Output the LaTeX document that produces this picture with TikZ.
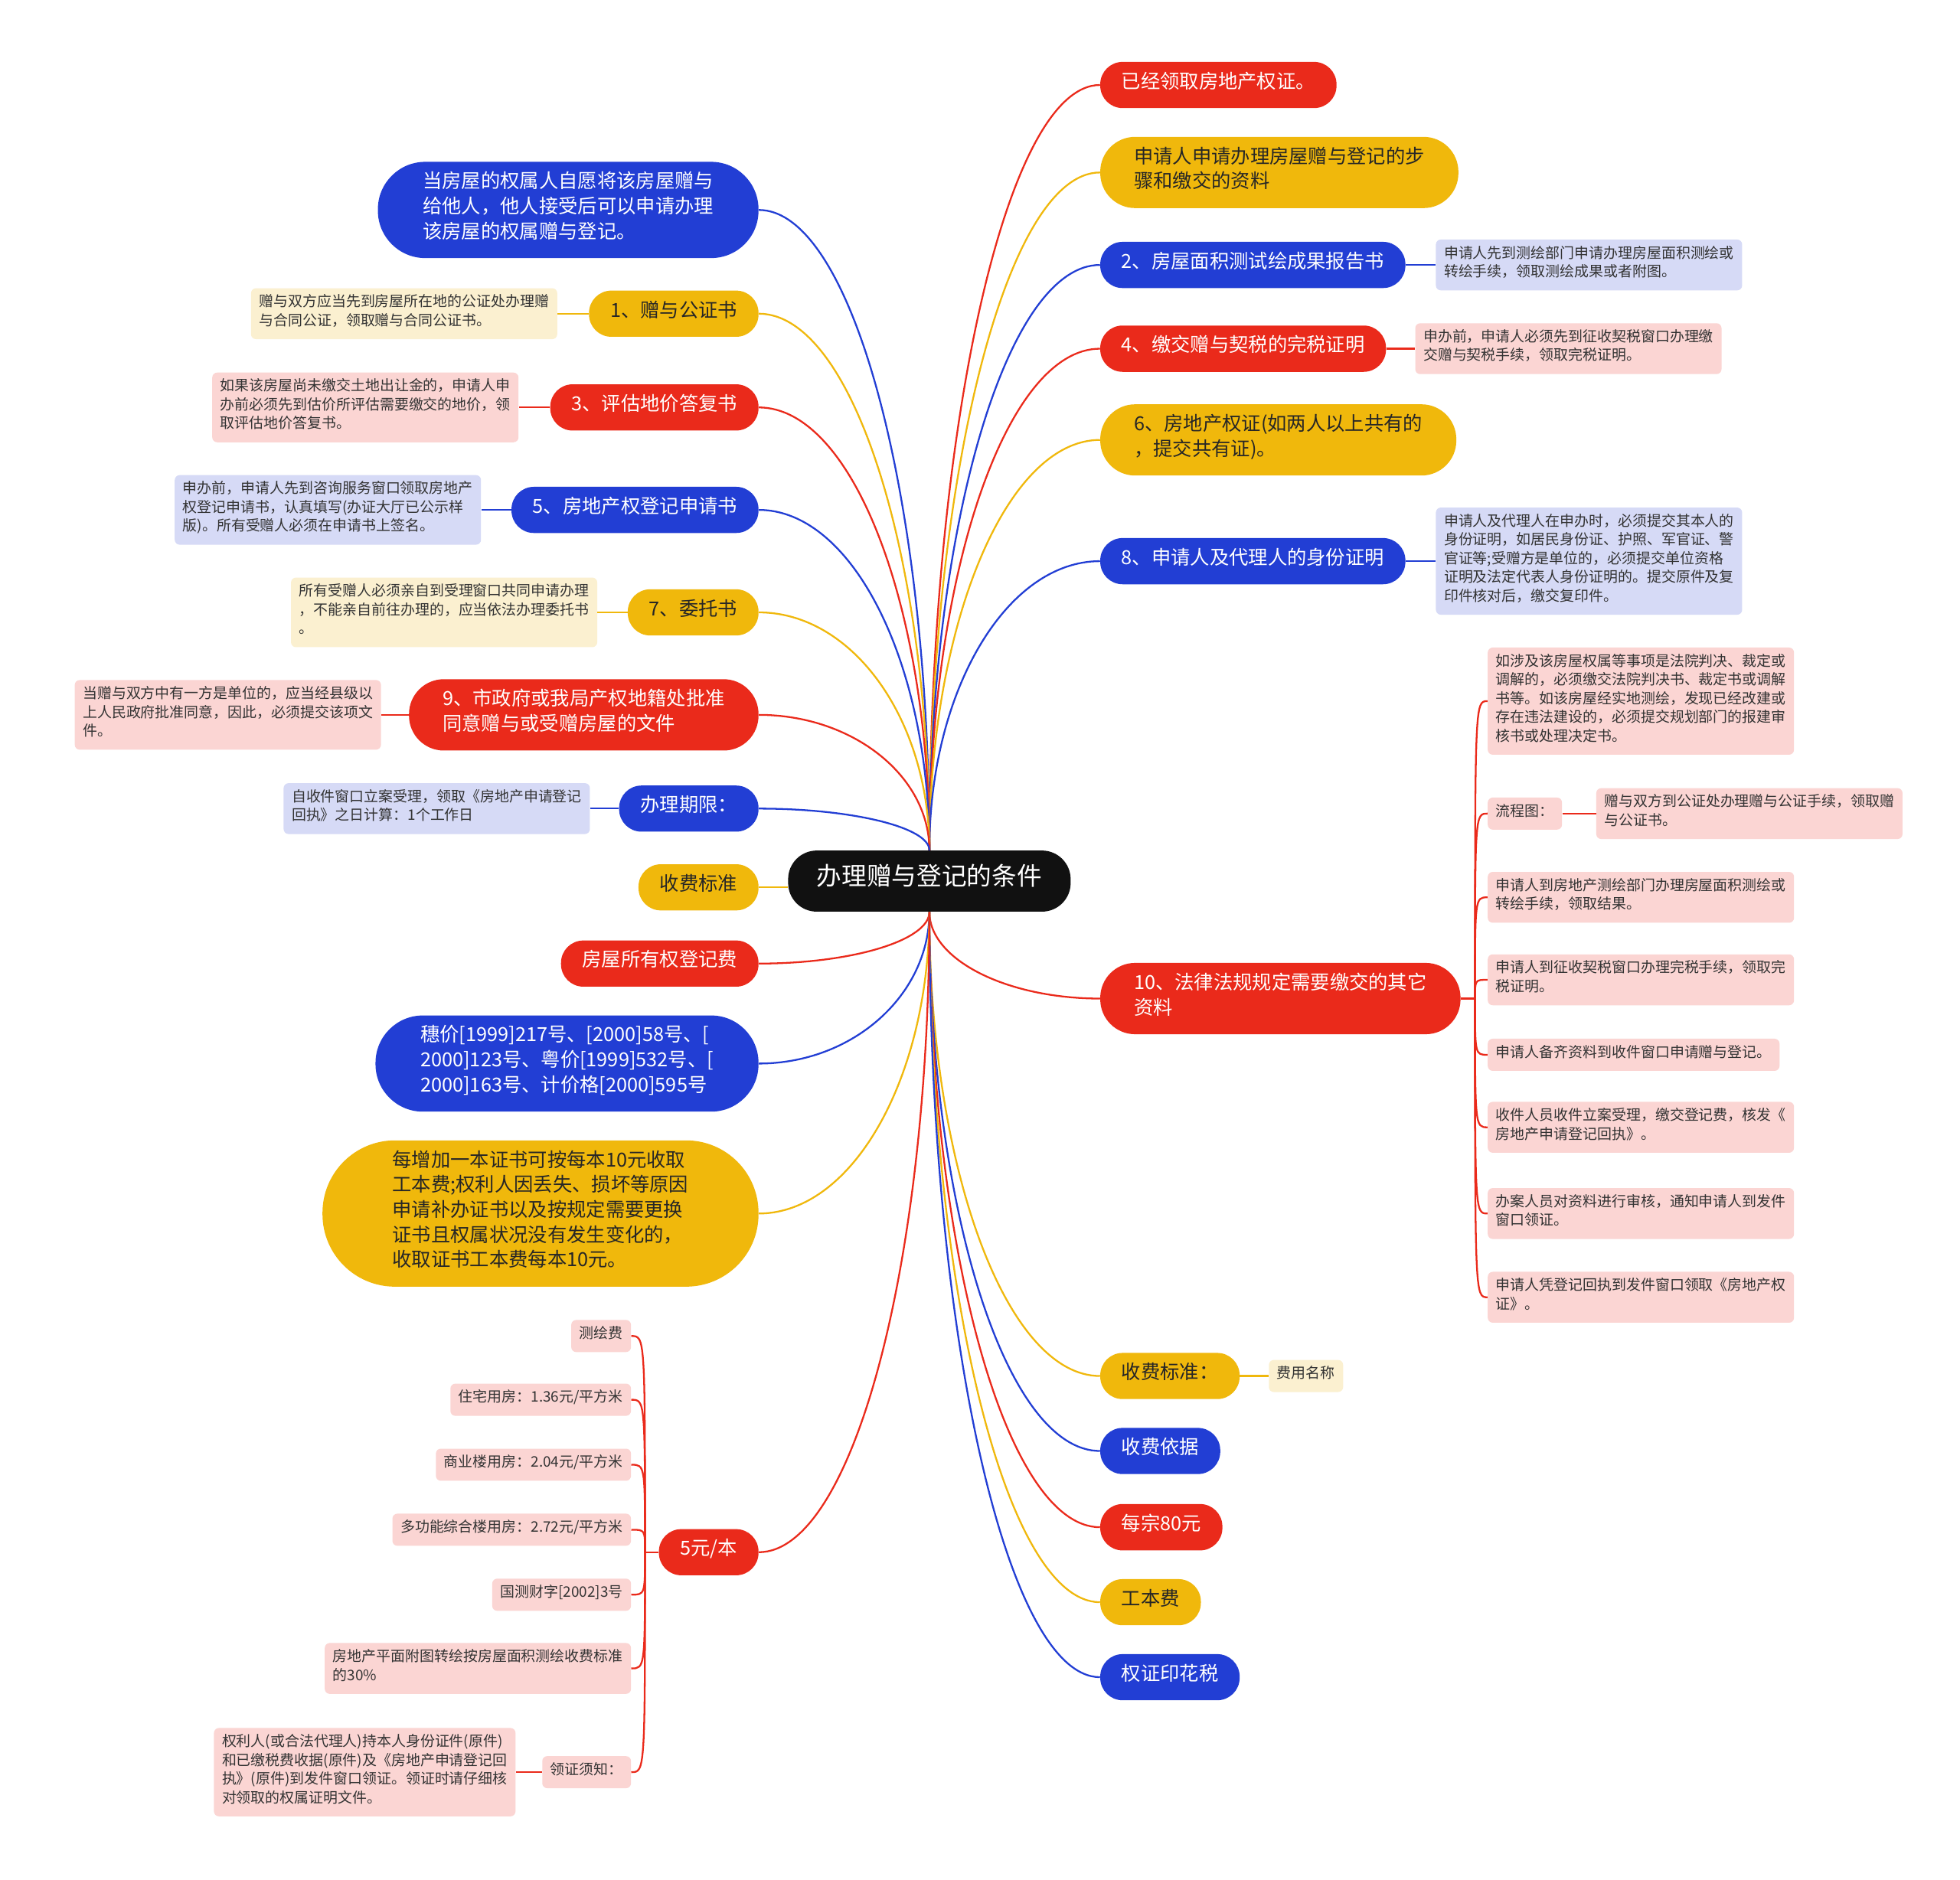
\documentclass[tikz,border=0pt]{standalone}
\usepackage{fontspec}
\setmainfont{Noto Sans CJK SC}
\usepackage{xcolor}
\usetikzlibrary{positioning, calc}

\definecolor{mmred}{HTML}{EA2A1B}
\definecolor{mmyellow}{HTML}{F0B80C}
\definecolor{mmblue}{HTML}{223ED4}
\definecolor{rootblack}{HTML}{111111}
\definecolor{notered}{HTML}{FBD5D3}
\definecolor{noteblue}{HTML}{D6DAF6}
\definecolor{noteyellow}{HTML}{FBF0D0}
\definecolor{notetext}{HTML}{333333}

\begin{document}
\begin{tikzpicture}[
    x=1pt, y=-1pt,
    every node/.style={inner sep=0pt},
    root/.style  ={rectangle, rounded corners=22.9pt, fill=rootblack, text=white,
                   inner xsep=23pt, inner ysep=11pt,
                   font=\fontsize{20}{24}\selectfont,
                   execute at begin node={\rule[-10pt]{0pt}{24pt}}},
    topic/.style ={rectangle, rounded corners=17.9pt, inner xsep=17pt, inner ysep=8pt,
                   align=left, font=\fontsize{15.5}{20}\selectfont,
                   execute at begin node={\rule[-7.9pt]{0pt}{20pt}},
                   execute at end node={\rule[-7.9pt]{0pt}{20pt}}},
    twoline/.style  ={rounded corners=27.9pt, inner xsep=27pt},
    threeline/.style={rounded corners=37.9pt, inner xsep=36pt},
    fiveline/.style ={rounded corners=57.9pt, inner xsep=56pt},
    redtopic/.style   ={topic, fill=mmred, text=white},
    bluetopic/.style  ={topic, fill=mmblue, text=white},
    yellowtopic/.style={topic, fill=mmyellow, text=black!85},
    note/.style  ={rectangle, rounded corners=4pt, inner xsep=6.5pt, inner ysep=5pt,
                   align=left, text=notetext, font=\fontsize{11.6}{15}\selectfont,
                   execute at begin node={\rule[-5.9pt]{0pt}{15pt}},
                   execute at end node={\rule[-5.9pt]{0pt}{15pt}}},
    rednote/.style   ={note, fill=notered},
    bluenote/.style  ={note, fill=noteblue},
    yellownote/.style={note, fill=noteyellow},
    link/.style  ={draw=#1, line width=1.4pt},
    branch/.style={to path={let \p1=(\tikztostart), \p2=(\tikztotarget) in
                   .. controls (\x1,{\y1+0.55*(\y2-\y1)}) and ({\x2-0.55*(\x2-\x1)},\y2)
                   .. (\tikztotarget)}},
    fork/.style  ={to path={let \p1=(\tikztostart), \p2=(\tikztotarget) in
                   .. controls (\x1,\y2) and (\x1,\y2) .. (\tikztotarget)}},
  ]

  %% --- page -------------------------------------------------------------
  \useasboundingbox[fill=white] (0,0) rectangle (1568,1504);

  %% --- columns ----------------------------------------------------------
  \def\xR{880}    % right topics (west edge)
  \def\xL{607}    % left topics (east edge)
  \def\xK{1190}   % children of item 10
  \def\xF{505}    % children of 5 yuan

  %% --- centre -----------------------------------------------------------
  \node[root] (root) at (743.5,705) {办理赠与登记的条件};

  %% --- right topics -----------------------------------------------------
  \node[redtopic, anchor=west]             (r1)  at (\xR,68)   {已经领取房地产权证。};
  \node[yellowtopic, twoline, anchor=west] (r2)  at (\xR,138)  {申请人申请办理房屋赠与登记的步\\骤和缴交的资料};
  \node[bluetopic, anchor=west]            (r3)  at (\xR,212)  {2、房屋面积测试绘成果报告书};
  \node[redtopic, anchor=west]             (r4)  at (\xR,279)  {4、缴交赠与契税的完税证明};
  \node[yellowtopic, twoline, anchor=west] (r5)  at (\xR,352)  {6、房地产权证(如两人以上共有的\\，提交共有证)。};
  \node[bluetopic, anchor=west]            (r6)  at (\xR,449)  {8、申请人及代理人的身份证明};
  \node[redtopic, twoline, anchor=west]    (r7)  at (\xR,799)  {10、法律法规规定需要缴交的其它\\资料};
  \node[yellowtopic, anchor=west]          (r8)  at (\xR,1101) {收费标准：};
  \node[bluetopic, anchor=west]            (r9)  at (\xR,1161) {收费依据};
  \node[redtopic, anchor=west]             (r10) at (\xR,1222) {每宗80元};
  \node[yellowtopic, anchor=west]          (r11) at (\xR,1282) {工本费};
  \node[bluetopic, anchor=west]            (r12) at (\xR,1342) {权证印花税};

  %% --- right notes ------------------------------------------------------
  \node[bluenote, right=24pt of r3] (r3n) {申请人先到测绘部门申请办理房屋面积测绘或\\转绘手续，领取测绘成果或者附图。};
  \node[rednote, right=23pt of r4]  (r4n) {申办前，申请人必须先到征收契税窗口办理缴\\交赠与契税手续，领取完税证明。};
  \node[bluenote, right=24pt of r6] (r6n) {申请人及代理人在申办时，必须提交其本人的\\身份证明，如居民身份证、护照、军官证、警\\官证等;受赠方是单位的，必须提交单位资格\\证明及法定代表人身份证明的。提交原件及复\\印件核对后，缴交复印件。};
  \node[yellownote, right=23pt of r8] (r8n) {费用名称};

  %% --- children of item 10 ----------------------------------------------
  \node[rednote, anchor=west] (k1) at (\xK,561)  {如涉及该房屋权属等事项是法院判决、裁定或\\调解的，必须缴交法院判决书、裁定书或调解\\书等。如该房屋经实地测绘，发现已经改建或\\存在违法建设的，必须提交规划部门的报建审\\核书或处理决定书。};
  \node[rednote, anchor=west] (k2) at (\xK,651)  {流程图：};
  \node[rednote, right=27pt of k2] (k2n) {赠与双方到公证处办理赠与公证手续，领取赠\\与公证书。};
  \node[rednote, anchor=west] (k3) at (\xK,718)  {申请人到房地产测绘部门办理房屋面积测绘或\\转绘手续，领取结果。};
  \node[rednote, anchor=west] (k4) at (\xK,784)  {申请人到征收契税窗口办理完税手续，领取完\\税证明。};
  \node[rednote, anchor=west] (k5) at (\xK,844)  {申请人备齐资料到收件窗口申请赠与登记。};
  \node[rednote, anchor=west] (k6) at (\xK,902)  {收件人员收件立案受理，缴交登记费，核发《\\房地产申请登记回执》。};
  \node[rednote, anchor=west] (k7) at (\xK,971)  {办案人员对资料进行审核，通知申请人到发件\\窗口领证。};
  \node[rednote, anchor=west] (k8) at (\xK,1038) {申请人凭登记回执到发件窗口领取《房地产权\\证》。};

  %% --- left topics ------------------------------------------------------
  \node[bluetopic, threeline, anchor=east]  (l1)  at (\xL,168)  {当房屋的权属人自愿将该房屋赠与\\给他人，他人接受后可以申请办理\\该房屋的权属赠与登记。};
  \node[yellowtopic, anchor=east]           (l2)  at (\xL,251)  {1、赠与公证书};
  \node[redtopic, anchor=east]              (l3)  at (\xL,326)  {3、评估地价答复书};
  \node[bluetopic, anchor=east]             (l4)  at (\xL,408)  {5、房地产权登记申请书};
  \node[yellowtopic, anchor=east]           (l5)  at (\xL,490)  {7、委托书};
  \node[redtopic, twoline, anchor=east]     (l6)  at (\xL,572)  {9、市政府或我局产权地籍处批准\\同意赠与或受赠房屋的文件};
  \node[bluetopic, anchor=east]             (l7)  at (\xL,647)  {办理期限：};
  \node[yellowtopic, anchor=east]           (l8)  at (\xL,710)  {收费标准};
  \node[redtopic, anchor=east]              (l9)  at (\xL,771)  {房屋所有权登记费};
  \node[bluetopic, threeline, anchor=east]  (l10) at (\xL,851)  {穗价[1999]217号、[2000]58号、[\\2000]123号、粤价[1999]532号、[\\2000]163号、计价格[2000]595号};
  \node[yellowtopic, fiveline, anchor=east] (l11) at (\xL,971)  {每增加一本证书可按每本10元收取\\工本费;权利人因丢失、损坏等原因\\申请补办证书以及按规定需要更换\\证书且权属状况没有发生变化的，\\收取证书工本费每本10元。};
  \node[redtopic, anchor=east]              (l12) at (\xL,1242) {5元/本};

  %% --- left notes -------------------------------------------------------
  \node[yellownote, left=25pt of l2] (l2n) {赠与双方应当先到房屋所在地的公证处办理赠\\与合同公证，领取赠与合同公证书。};
  \node[rednote, left=25pt of l3]    (l3n) {如果该房屋尚未缴交土地出让金的，申请人申\\办前必须先到估价所评估需要缴交的地价，领\\取评估地价答复书。};
  \node[bluenote, left=24pt of l4]   (l4n) {申办前，申请人先到咨询服务窗口领取房地产\\权登记申请书，认真填写(办证大厅已公示样\\版)。所有受赠人必须在申请书上签名。};
  \node[yellownote, left=24pt of l5] (l5n) {所有受赠人必须亲自到受理窗口共同申请办理\\，不能亲自前往办理的，应当依法办理委托书\\。};
  \node[rednote, left=22pt of l6]    (l6n) {当赠与双方中有一方是单位的，应当经县级以\\上人民政府批准同意，因此，必须提交该项文\\件。};
  \node[bluenote, left=23pt of l7]   (l7n) {自收件窗口立案受理，领取《房地产申请登记\\回执》之日计算：1个工作日};

  %% --- children of 5 yuan -----------------------------------------------
  \node[rednote, anchor=east] (f1) at (\xF,1069) {测绘费};
  \node[rednote, anchor=east] (f2) at (\xF,1120) {住宅用房：1.36元/平方米};
  \node[rednote, anchor=east] (f3) at (\xF,1172) {商业楼用房：2.04元/平方米};
  \node[rednote, anchor=east] (f4) at (\xF,1224) {多功能综合楼用房：2.72元/平方米};
  \node[rednote, anchor=east] (f5) at (\xF,1276) {国测财字[2002]3号};
  \node[rednote, anchor=east] (f6) at (\xF,1335) {房地产平面附图转绘按房屋面积测绘收费标准\\的30\%};
  \node[rednote, anchor=east] (f7) at (\xF,1418) {领证须知：};
  \node[rednote, left=21pt of f7] (f7n) {权利人(或合法代理人)持本人身份证件(原件)\\和已缴税费收据(原件)及《房地产申请登记回\\执》(原件)到发件窗口领证。领证时请仔细核\\对领取的权属证明文件。};

  %% --- fork points ------------------------------------------------------
  \coordinate (k0) at (1180,799);
  \coordinate (f0) at (516,1242);

  %% --- root -> right ----------------------------------------------------
  \draw[link=mmred]    (root.north) to[branch] (r1.west);
  \draw[link=mmyellow] (root.north) to[branch] (r2.west);
  \draw[link=mmblue]   (root.north) to[branch] (r3.west);
  \draw[link=mmred]    (root.north) to[branch] (r4.west);
  \draw[link=mmyellow] (root.north) to[branch] (r5.west);
  \draw[link=mmblue]   (root.north) to[branch] (r6.west);
  \draw[link=mmred]    (root.south) to[branch] (r7.west);
  \draw[link=mmyellow] (root.south) to[branch] (r8.west);
  \draw[link=mmblue]   (root.south) to[branch] (r9.west);
  \draw[link=mmred]    (root.south) to[branch] (r10.west);
  \draw[link=mmyellow] (root.south) to[branch] (r11.west);
  \draw[link=mmblue]   (root.south) to[branch] (r12.west);

  %% --- root -> left -----------------------------------------------------
  \draw[link=mmblue]   (root.north) to[branch] (l1.east);
  \draw[link=mmyellow] (root.north) to[branch] (l2.east);
  \draw[link=mmred]    (root.north) to[branch] (l3.east);
  \draw[link=mmblue]   (root.north) to[branch] (l4.east);
  \draw[link=mmyellow] (root.north) to[branch] (l5.east);
  \draw[link=mmred]    (root.north) to[branch] (l6.east);
  \draw[link=mmblue]   (root.north) to[branch] (l7.east);
  \draw[link=mmyellow] (l8.east) -- (l8.east -| root.west);
  \draw[link=mmred]    (root.south) to[branch] (l9.east);
  \draw[link=mmblue]   (root.south) to[branch] (l10.east);
  \draw[link=mmyellow] (root.south) to[branch] (l11.east);
  \draw[link=mmred]    (root.south) to[branch] (l12.east);

  %% --- topic -> single note ---------------------------------------------
  \draw[link=mmblue]   (r3.east) -- (r3n.west);
  \draw[link=mmred]    (r4.east) -- (r4n.west);
  \draw[link=mmblue]   (r6.east) -- (r6n.west);
  \draw[link=mmyellow] (r8.east) -- (r8n.west);
  \draw[link=mmred]    (k2.east) -- (k2n.west);
  \draw[link=mmyellow] (l2.west) -- (l2n.east);
  \draw[link=mmred]    (l3.west) -- (l3n.east);
  \draw[link=mmblue]   (l4.west) -- (l4n.east);
  \draw[link=mmyellow] (l5.west) -- (l5n.east);
  \draw[link=mmred]    (l6.west) -- (l6n.east);
  \draw[link=mmblue]   (l7.west) -- (l7n.east);
  \draw[link=mmred]    (f7.west) -- (f7n.east);

  %% --- item 10 fork -----------------------------------------------------
  \draw[link=mmred] (r7.east) -- (k0);
  \foreach \k in {k1,k2,k3,k4,k5,k6,k7,k8}
    \draw[link=mmred] (k0) to[fork] (\k.west);

  %% --- 5 yuan fork ------------------------------------------------------
  \draw[link=mmred] (l12.west) -- (f0);
  \foreach \f in {f1,f2,f3,f4,f5,f6,f7}
    \draw[link=mmred] (f0) to[fork] (\f.east);

\end{tikzpicture}
\end{document}
